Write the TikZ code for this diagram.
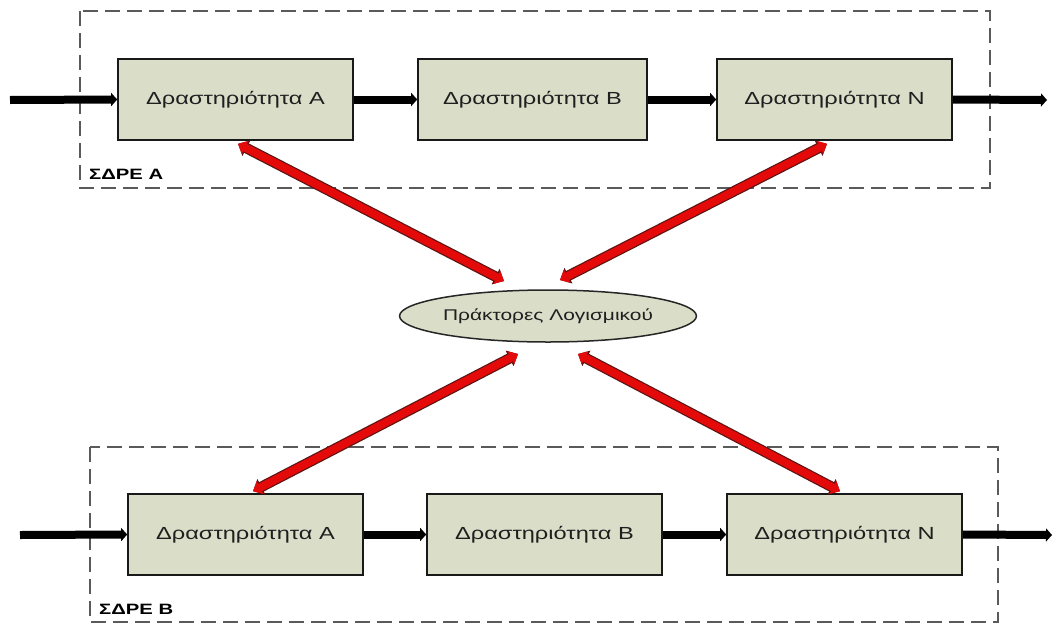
\documentclass[tikz,border=0pt]{standalone}
\usepackage{fontspec}
\setmainfont{Liberation Sans}[FakeStretch=1.35]
\usetikzlibrary{arrows.meta,shapes.geometric}
\definecolor{boxfill}{RGB}{218,222,201}
\definecolor{agentred}{RGB}{228,10,10}
\definecolor{agentedge}{RGB}{95,20,20}
\definecolor{groupline}{RGB}{90,90,90}

\begin{document}
\begin{tikzpicture}[x=1pt,y=-1pt,
  activity/.style={draw=black!90, line width=1.6pt, fill=boxfill,
    minimum width=235pt, minimum height=81pt, inner sep=0pt,
    font=\fontsize{17.5}{20}\selectfont, text=black!88},
  agents/.style={ellipse, draw=black!85, line width=1.5pt, fill=boxfill,
    minimum width=262pt, minimum height=52pt, inner sep=0pt,
    font=\fontsize{15.5}{18}\selectfont, text=black!88},
  grouplabel/.style={anchor=west, inner sep=0pt,
    font=\fontsize{15}{18}\bfseries\selectfont},
  group/.style={draw=groupline, line width=2.3pt, dash pattern=on 15pt off 7pt},
  flow/.style={draw=black, line width=8pt,
    -{Triangle[length=6pt,width=13pt]}},
  agent/.style={draw=agentred, line width=8pt,
    {Triangle[length=8pt,width=14pt]}-{Triangle[length=8pt,width=14pt]},
    preaction={draw=agentedge, line width=10.5pt,
      {Triangle[length=9.5pt,width=17pt]}-{Triangle[length=9.5pt,width=17pt]}}}
]
\useasboundingbox (0,0) rectangle (1057,624);

% workflow system A
\draw[group] (80,11) rectangle (990,188);
\node[grouplabel] (labA) at (89,174) {ΣΔΡΕ Α};
\node[activity] (tA) at (235.5,99.5) {Δραστηριότητα A};
\node[activity, minimum width=229pt] (tB) at (532.5,99.5) {Δραστηριότητα B};
\node[activity] (tN) at (834.5,99.5) {Δραστηριότητα N};
\coordinate (inA) at (10,100);
\coordinate (outA) at (1047,100);
\draw[flow] (inA) -- (tA.west);
\draw[flow] (tA.east) -- (tB.west);
\draw[flow] (tB.east) -- (tN.west);
\draw[flow] (tN.east) -- (outA);

% workflow system B
\draw[group] (90,447) rectangle (998,622);
\node[grouplabel] (labB) at (99,609) {ΣΔΡΕ Β};
\node[activity] (bA) at (245.5,534.5) {Δραστηριότητα A};
\node[activity] (bB) at (544.5,534.5) {Δραστηριότητα B};
\node[activity] (bN) at (844.5,534.5) {Δραστηριότητα N};
\coordinate (inB) at (20,535);
\coordinate (outB) at (1052,535);
\draw[flow] (inB) -- (bA.west);
\draw[flow] (bA.east) -- (bB.west);
\draw[flow] (bB.east) -- (bN.west);
\draw[flow] (bN.east) -- (outB);

% software agents in the middle
\node[agents] (ag) at (548,316) {Πράκτορες Λογισμικού};
\coordinate (ka) at (504,281);
\coordinate (kb) at (560,280);
\coordinate (kc) at (518,354);
\coordinate (kd) at (578,354);
\draw[agent] ([xshift=2.5pt,yshift=-3pt]tA.south) -- (ka);
\draw[agent] ([xshift=-7.5pt,yshift=-3pt]tN.south) -- (kb);
\draw[agent] ([xshift=7.5pt,yshift=2pt]bA.north) -- (kc);
\draw[agent] ([xshift=-4.5pt,yshift=2pt]bN.north) -- (kd);
\end{tikzpicture}
\end{document}
